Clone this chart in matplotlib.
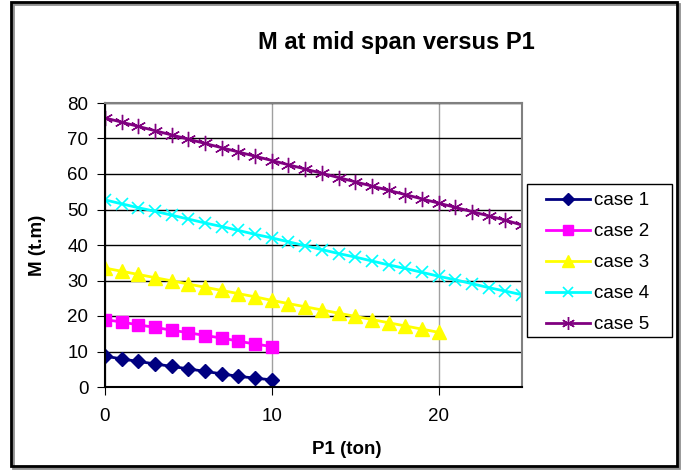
import matplotlib.pyplot as plt
from matplotlib.patches import Rectangle

plt.rcParams['font.family'] = ['Liberation Sans', 'DejaVu Sans']

# P1 (ton) values for each case
x_short = [0, 1, 2, 3, 4, 5, 6, 7, 8, 9, 10]
x_mid = list(range(0, 21))
x_long = list(range(0, 26))

case1 = [8.7, 7.9, 7.2, 6.5, 5.8, 5.1, 4.4, 3.7, 3.0, 2.5, 2.0]
case2 = [19.0, 18.3, 17.5, 16.8, 16.0, 15.3, 14.5, 13.8, 12.9, 12.1, 11.4]
case3 = [33.5, 32.6, 31.7, 30.8, 29.9, 29.0, 28.1, 27.2, 26.3, 25.4, 24.4,
         23.5, 22.6, 21.7, 20.8, 19.9, 19.0, 18.1, 17.2, 16.3, 15.4]
case4 = [52.7, 51.6, 50.5, 49.5, 48.4, 47.3, 46.2, 45.2, 44.1, 43.0, 42.0,
         40.9, 39.8, 38.7, 37.6, 36.6, 35.5, 34.4, 33.4, 32.3, 31.2,
         30.2, 29.1, 28.0, 27.0, 26.0]
case5 = [75.8, 74.6, 73.4, 72.2, 71.0, 69.8, 68.6, 67.4, 66.2, 65.0, 63.8,
         62.6, 61.4, 60.2, 59.0, 57.8, 56.6, 55.4, 54.2, 53.0, 51.8,
         50.6, 49.4, 48.2, 47.0, 45.6]

W, H = 681, 470
fig = plt.figure(figsize=(6.81, 4.70), dpi=100)
# outer chart frame with a light shadow
fig.patches.append(Rectangle((13 / W, 2 / H), 666 / W, 464 / H,
                             transform=fig.transFigure, fill=False,
                             edgecolor='#909090', linewidth=2))
fig.patches.append(Rectangle((11 / W, 4 / H), 666 / W, 464 / H,
                             transform=fig.transFigure, fill=False,
                             edgecolor='black', linewidth=2))
# legend box
fig.patches.append(Rectangle((527 / W, 1 - 337 / H), 145 / W, 153 / H,
                             transform=fig.transFigure, fill=False,
                             edgecolor='black', linewidth=1))

ax = fig.add_axes([105 / W, 1 - 387 / H, 417 / W, 284 / H])

ax.plot(x_short, case1, color='#000080', marker='D', markersize=7, linewidth=2, label='case 1')
ax.plot(x_short, case2, color='#ff00ff', marker='s', markersize=8, linewidth=2, label='case 2')
ax.plot(x_mid, case3, color='#ffff00', marker='^', markersize=10, linewidth=2, label='case 3')
ax.plot(x_long, case4, color='#00ffff', marker='x', markersize=9, linewidth=2,
        markeredgewidth=1.2, label='case 4')
ax.plot(x_long, case5, color='#800080', marker=(6, 2, 0), markersize=11, linewidth=2,
        markeredgewidth=1.0, label='case 5')

ax.set_xlim(0, 25)
ax.set_ylim(0, 80)
ax.set_xticks([0, 10, 20])
ax.set_yticks(range(0, 81, 10))
ax.grid(axis='y', color='black', linewidth=1)
ax.grid(axis='x', color='#a0a0a0', linewidth=1)
ax.set_axisbelow(True)
for s in ax.spines.values():
    s.set_color('#808080')
    s.set_linewidth(1.5)
ax.spines['left'].set_color('black')
ax.spines['bottom'].set_color('black')
ax.tick_params(labelsize=13.5, length=6, direction='out')
ax.tick_params(axis='x', pad=9)
ax.tick_params(axis='y', pad=6)

fig.text(396 / W, 1 - 42 / H, 'M at mid span versus P1', fontsize=17,
         fontweight='bold', ha='center', va='center')
fig.text(347 / W, 1 - 449 / H, 'P1 (ton)', fontsize=13.5,
         fontweight='bold', ha='center', va='center')
fig.text(38 / W, 1 - 245 / H, 'M (t.m)', fontsize=13.5, fontweight='bold',
         ha='center', va='center', rotation=90)

leg = ax.legend(loc='upper left', bbox_to_anchor=(546 / W, 1 - 192 / H),
                bbox_transform=fig.transFigure, fontsize=13.5, frameon=False,
                borderpad=0, labelspacing=0.74, handlelength=2.35,
                handletextpad=0.2, borderaxespad=0, markerscale=0.85)

fig.savefig('out.png', dpi=100)
